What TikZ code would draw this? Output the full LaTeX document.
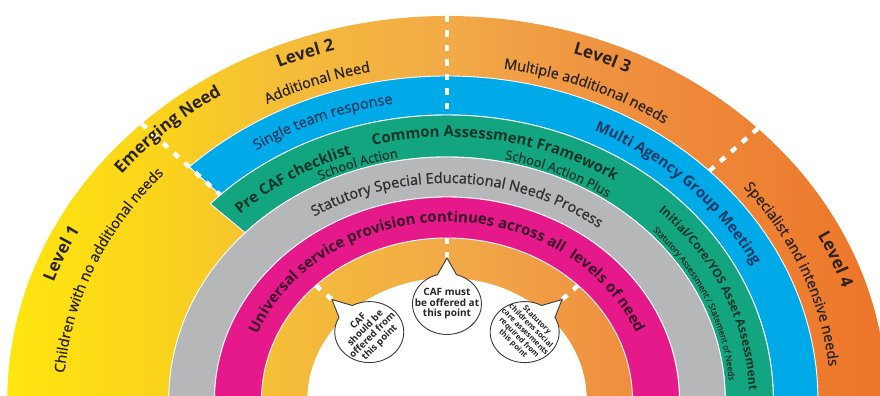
\documentclass[tikz,border=0pt]{standalone}
\usepackage{fontspec}
\setmainfont{Open Sans}
\newfontfamily\semibold{Open Sans}[FakeBold=0.9]
\usetikzlibrary{decorations.text,shapes.callouts}

\definecolor{lvyellow}{HTML}{FFE60E}
\definecolor{lvyellowdk}{HTML}{FAD31C}
\definecolor{lvgold}{HTML}{F5BD38}
\definecolor{lvamber}{HTML}{F2AA48}
\definecolor{lvorangelt}{HTML}{EF9240}
\definecolor{lvorangemd}{HTML}{ED7B2E}
\definecolor{lvorange}{HTML}{EC7428}
\definecolor{singleblue}{HTML}{00AAE8}
\definecolor{cafgreen}{HTML}{13A57F}
\definecolor{sengray}{HTML}{B6B7B9}
\definecolor{univpink}{HTML}{E6198B}
\definecolor{leveltext}{HTML}{2A231C}
\definecolor{bluetext}{HTML}{1B3A66}
\definecolor{greentext}{HTML}{0F3529}
\definecolor{graytext}{HTML}{2E2E2E}
\definecolor{pinktext}{HTML}{3A0B28}
\definecolor{bubbleline}{HTML}{3A3A3A}

\pgfdeclarehorizontalshading{levelshade}{100bp}{color(0bp)=(lvyellow); color(25bp)=(lvyellow); color(34bp)=(lvyellowdk); color(40.5bp)=(lvgold); color(50bp)=(lvamber); color(58.7bp)=(lvorangelt); color(71bp)=(lvorangemd); color(75bp)=(lvorange); color(100bp)=(lvorange)}

\newcommand{\leveltitle}{\fontsize{17}{20}\selectfont\bfseries}
\newcommand{\levelsub}{\fontsize{14.5}{17}\selectfont\semibold}
\newcommand{\bandreg}{\fontsize{14.5}{17}\selectfont\semibold}
\newcommand{\bandbold}{\fontsize{15}{18}\selectfont\bfseries}
\newcommand{\bandsmall}{\fontsize{13}{15}\selectfont\semibold}

% text on an arc: colour, centre angle, half span, radius, text
\newcommand{\bandlabel}[5]{%
  \path[decorate, decoration={text along path, text align=center,
    text color=#1, text={#5}}]
    ({#2+#3}:#4) arc[start angle={#2+#3}, end angle={#2-#3}, radius=#4];}

\begin{document}
\begin{tikzpicture}[x=1.145pt, y=1pt,
  band/.style={draw=white, line width=0.9pt},
  divider/.style={draw=white, line width=4.5pt, dash pattern=on 6.5pt off 8pt},
  bubble/.style={ellipse callout, draw=bubbleline, fill=white, line width=0.9pt,
    minimum width=69pt, minimum height=61pt, inner sep=0pt, callout pointer arc=32},
  bubbletext/.style={font=\bfseries\fontsize{10}{10.5}\selectfont, align=center, text=black!85}]
  \useasboundingbox (-390.4,4) rectangle (378.2,400);
  \clip (-390.4,4) rectangle (378.2,400);

  % levels background and inner white
  \shade[shading=levelshade] (-2:384) arc[start angle=-2, end angle=182, radius=384] -- cycle;
  \fill[white] (-2:122) arc[start angle=-2, end angle=182, radius=122] -- cycle;

  % bands
  \filldraw[band, fill=singleblue] (134:324) arc[start angle=134, end angle=-3, radius=324]
    -- (-3:285) arc[start angle=-3, end angle=134, radius=285] -- cycle;
  \filldraw[band, fill=cafgreen] (136.5:285) arc[start angle=136.5, end angle=-3, radius=285]
    -- (-3:243) arc[start angle=-3, end angle=136.5, radius=243] -- cycle;
  \filldraw[band, fill=sengray] (183:243) arc[start angle=183, end angle=-3, radius=243]
    -- (-3:203) arc[start angle=-3, end angle=183, radius=203] -- cycle;
  \filldraw[band, fill=univpink] (183:203) arc[start angle=183, end angle=-3, radius=203]
    -- (-3:162) arc[start angle=-3, end angle=183, radius=162] -- cycle;

  % dashed dividers
  \foreach \a/\r in {134/285, 90/285, 45/324}
    \draw[divider] (\a:384) -- (\a:\r);
  \foreach \a in {135,90,45}
    \draw[divider] (\a:162) -- (\a:142);

  % levels
  \bandlabel{leveltext}{157}{22}{363}{|\leveltitle|Level 1}
  \bandlabel{leveltext}{157}{32}{335}{|\levelsub|Children with no additional needs}
  \bandlabel{leveltext}{132.5}{20}{363}{|\leveltitle|Emerging Need}
  \bandlabel{leveltext}{110}{20}{363}{|\leveltitle|Level 2}
  \bandlabel{leveltext}{110}{22}{335}{|\levelsub|Additional Need}
  \bandlabel{leveltext}{68}{20}{363}{|\leveltitle|Level 3}
  \bandlabel{leveltext}{68}{30}{335}{|\levelsub|Multiple additional needs}
  \bandlabel{leveltext}{22}{22}{363}{|\leveltitle|Level 4}
  \bandlabel{leveltext}{22}{32}{335}{|\levelsub|Specialist and intensive needs}

  % blue
  \bandlabel{bluetext}{111.6}{22}{300}{|\bandreg|Single team response}
  \bandlabel{bluetext}{45}{30}{299}{|\bandbold|Multi Agency Group Meeting}

  % green
  \bandlabel{greentext}{121.7}{20}{259}{|\bandbold|Pre CAF checklist}
  \bandlabel{greentext}{108.5}{16}{246}{|\bandsmall|School Action}
  \bandlabel{greentext}{80}{35}{263}{|\bandbold|Common Assessment Framework}
  \bandlabel{greentext}{66.6}{18}{246}{|\bandsmall|School Action Plus}
  \bandlabel{greentext}{23.5}{30}{264}{|\fontsize{12}{14}\selectfont\bfseries|Initial/Core/YOS Asset Assessment}
  \bandlabel{greentext}{23.5}{30}{247}{|\fontsize{8.5}{10}\selectfont\semibold|Statutory Assessment / Statement of Needs}

  % gray and pink
  \bandlabel{graytext}{87.3}{40}{217}{|\bandreg|Statutory Special Educational Needs Process}
  \bandlabel{pinktext}{90.2}{80}{178}{|\bandbold|Universal service provision continues across all{\ } levels of need}

  % bubbles
  \node[bubble, callout absolute pointer={(135:142)}] (cafshould) at (135:96) {};
  \node[bubbletext, rotate=45, font=\bfseries\fontsize{9.5}{10}\selectfont] (cafshouldtext) at (cafshould)
    {CAF\\should be\\offered from\\this point};
  \node[bubble, callout absolute pointer={(90:142)}] (cafmust) at (90:96) {};
  \node[bubbletext] (cafmusttext) at (cafmust) {CAF must\\be offered at\\this point};
  \node[bubble, callout absolute pointer={(45:142)}] (statutory) at (45:96) {};
  \node[bubbletext, rotate=-45, font=\bfseries\fontsize{7.6}{8.4}\selectfont] (statutorytext) at (statutory)
    {Statutory\\childrens social\\care assesments\\required from\\this point};
\end{tikzpicture}
\end{document}
